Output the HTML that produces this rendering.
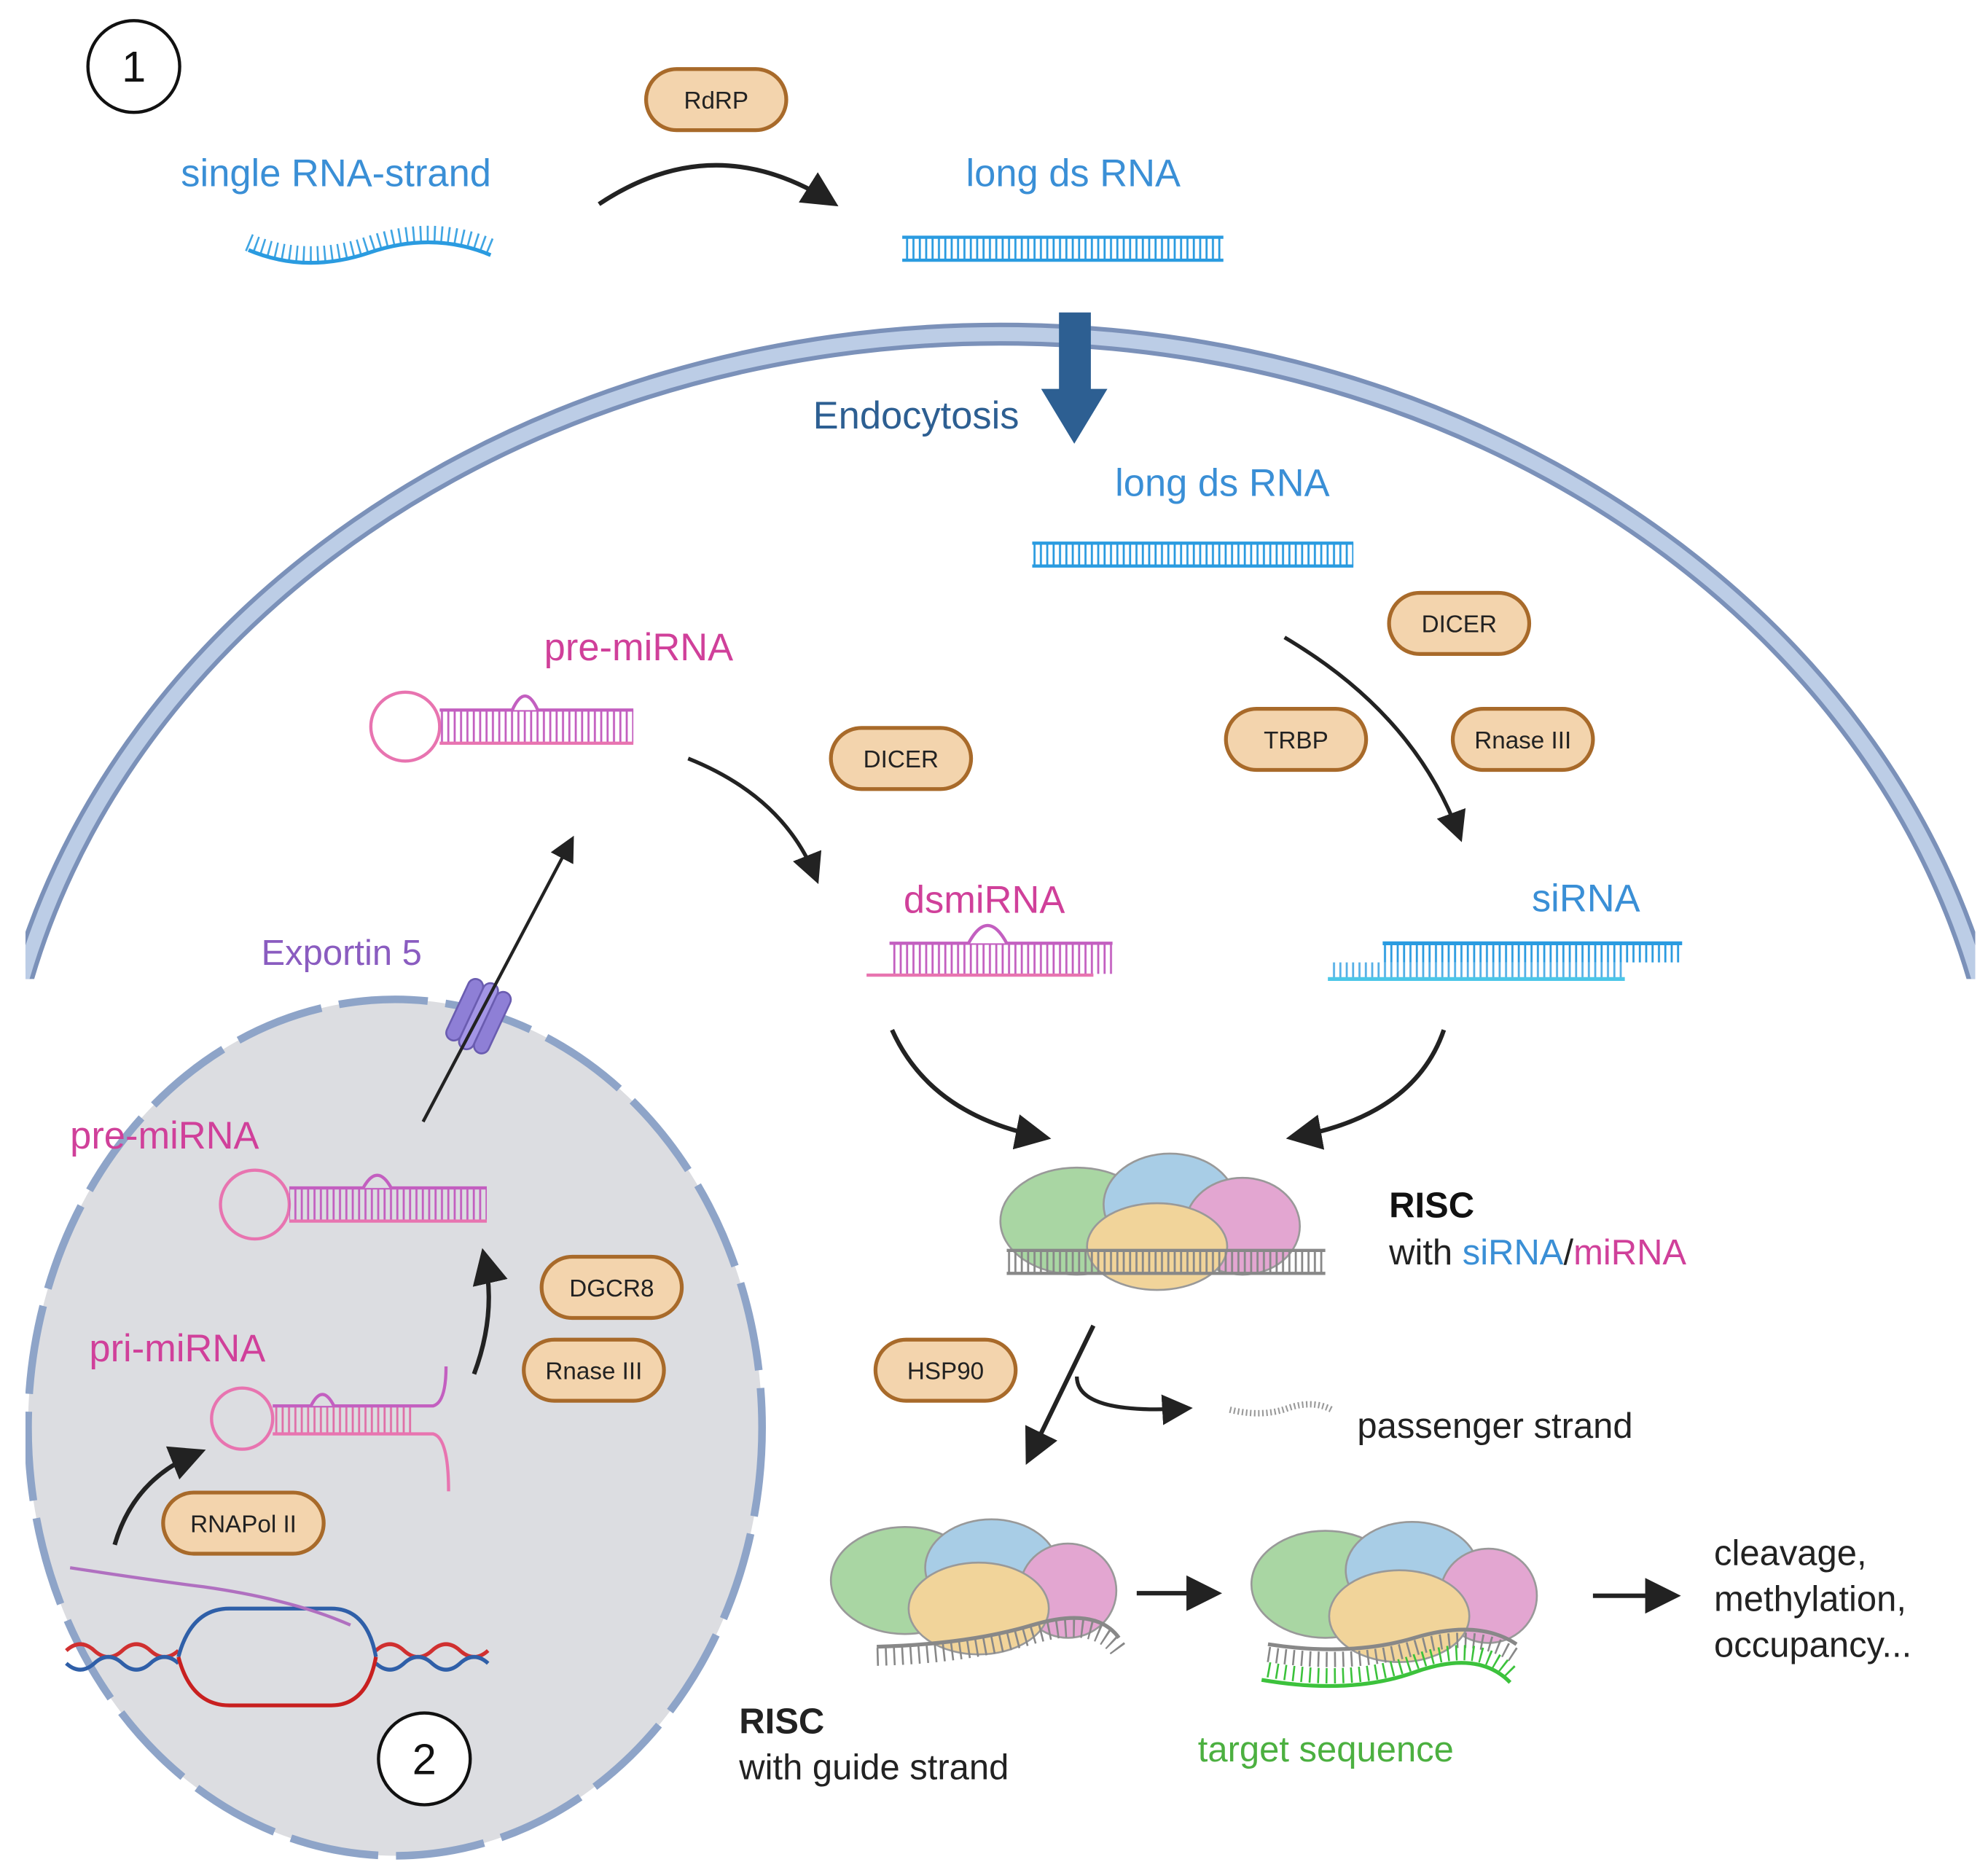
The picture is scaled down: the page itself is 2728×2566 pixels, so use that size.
<!DOCTYPE html>
<html><head><meta charset="utf-8"><style>
html,body{margin:0;padding:0;background:#fff;width:2728px;height:2566px;overflow:hidden}
svg{display:block}
text{font-family:"Liberation Sans",sans-serif}
</style></head><body>
<svg width="2728" height="2566" viewBox="0 0 1560 1467" xmlns="http://www.w3.org/2000/svg">
<defs>
<pattern id="tb" patternUnits="userSpaceOnUse" width="5" height="10"><rect x="1" y="0" width="1.6" height="10" fill="#2a9be0"/></pattern>
<pattern id="tp" patternUnits="userSpaceOnUse" width="5" height="10"><rect x="1" y="0" width="1.6" height="10" fill="#c35fc0"/></pattern>
<pattern id="tg" patternUnits="userSpaceOnUse" width="5" height="10"><rect x="1" y="0" width="1.6" height="10" fill="#888"/></pattern>
<pattern id="tpk" patternUnits="userSpaceOnUse" width="5" height="10"><rect x="1" y="0" width="1.6" height="10" fill="#e070a8"/></pattern>
<marker id="ah" markerWidth="8" markerHeight="8" refX="6" refY="4" orient="auto" markerUnits="strokeWidth"><path d="M0,0 L8,4 L0,8 z" fill="#222"/></marker>
<clipPath id="cc"><rect x="20" y="0" width="1530" height="768"/></clipPath>
</defs>

<g clip-path="url(#cc)">
<ellipse cx="785" cy="925" rx="790" ry="663" fill="none" stroke="#7b91b9" stroke-width="18"/>
<ellipse cx="785" cy="925" rx="790" ry="663" fill="none" stroke="#bccde6" stroke-width="11"/>
</g>

<circle cx="105" cy="52" r="36" fill="#fff" stroke="#111" stroke-width="2.5"/>
<text x="105" y="64" font-size="34" text-anchor="middle" fill="#111">1</text>

<g font-size="19" text-anchor="middle" fill="#222" stroke-width="3">
<rect x="507" y="54" width="110" height="48" rx="24" fill="#f3d4ad" stroke="#a86a2a"/><text x="562" y="85">RdRP</text>
<rect x="1090" y="465" width="110" height="48" rx="24" fill="#f3d4ad" stroke="#a86a2a"/><text x="1145" y="496">DICER</text>
<rect x="962" y="556" width="110" height="48" rx="24" fill="#f3d4ad" stroke="#a86a2a"/><text x="1017" y="587">TRBP</text>
<rect x="1140" y="556" width="110" height="48" rx="24" fill="#f3d4ad" stroke="#a86a2a"/><text x="1195" y="587">Rnase III</text>
<rect x="652" y="571" width="110" height="48" rx="24" fill="#f3d4ad" stroke="#a86a2a"/><text x="707" y="602">DICER</text>
<rect x="687" y="1051" width="110" height="48" rx="24" fill="#f3d4ad" stroke="#a86a2a"/><text x="742" y="1082">HSP90</text>
</g>

<g font-size="30" fill="#3a8fd6">
<text x="142" y="146">single RNA-strand</text>
<text x="758" y="146">long ds RNA</text>
<text x="875" y="389">long ds RNA</text>
<text x="1202" y="715">siRNA</text>
</g>
<text x="638" y="336" font-size="30" fill="#2d5f92">Endocytosis</text>

<path d="M195 196 Q240 215 290 198 T385 200" fill="none" stroke="#2a9be0" stroke-width="3"/>
<path d="M195 196 Q240 215 290 198 T385 200" fill="none" stroke="#2a9be0" stroke-width="14" stroke-dasharray="1.5 4" transform="translate(0,-6)" opacity="0.9"/>
<path d="M470 160 Q560 100 652 158" fill="none" stroke="#222" stroke-width="3.5" marker-end="url(#ah)"/>

<rect x="708" y="186" width="252" height="18" fill="url(#tb)"/>
<line x1="708" y1="186" x2="960" y2="186" stroke="#2a9be0" stroke-width="2.5"/>
<line x1="708" y1="204" x2="960" y2="204" stroke="#2a9be0" stroke-width="2.5"/>

<path d="M831 245 H856 V305 H869 L843 348 L817 305 H831 Z" fill="#2d5f92"/>

<rect x="810" y="426" width="252" height="18" fill="url(#tb)"/>
<line x1="810" y1="426" x2="1062" y2="426" stroke="#2a9be0" stroke-width="2.5"/>
<line x1="810" y1="444" x2="1062" y2="444" stroke="#2a9be0" stroke-width="2.5"/>

<path d="M1008 500 Q1110 560 1145 655" fill="none" stroke="#222" stroke-width="3" marker-end="url(#ah)"/>

<line x1="1085" y1="740" x2="1320" y2="740" stroke="#2a9be0" stroke-width="3"/>
<rect x="1085" y="741" width="235" height="14" fill="url(#tb)"/>
<rect x="1045" y="755" width="230" height="12" fill="url(#tb)" opacity="0.8"/>
<line x1="1042" y1="768" x2="1275" y2="768" stroke="#4cc7e8" stroke-width="3"/>

<text x="427" y="518" font-size="30" fill="#d0409a">pre-miRNA</text>
<circle cx="318" cy="570" r="27" fill="none" stroke="#e874b0" stroke-width="2.5"/>
<rect x="345" y="557" width="152" height="26" fill="url(#tp)"/>
<line x1="345" y1="557" x2="497" y2="557" stroke="#c35fc0" stroke-width="2.5"/>
<line x1="345" y1="583" x2="497" y2="583" stroke="#e874b0" stroke-width="2.5"/>
<path d="M402 557 Q412 535 422 557" fill="#fff" stroke="#c35fc0" stroke-width="2.5"/>

<path d="M540 595 Q615 625 640 688" fill="none" stroke="#222" stroke-width="3" marker-end="url(#ah)"/>

<text x="709" y="716" font-size="30" fill="#d0409a">dsmiRNA</text>
<line x1="698" y1="740" x2="873" y2="740" stroke="#c35fc0" stroke-width="2.5"/>
<rect x="698" y="741" width="175" height="23" fill="url(#tp)"/>
<line x1="680" y1="765" x2="858" y2="765" stroke="#e874b0" stroke-width="2.5"/>
<path d="M760 740 Q775 712 790 740" fill="#fff" stroke="#c35fc0" stroke-width="2.5"/>

<path d="M700 808 Q730 875 818 892" fill="none" stroke="#222" stroke-width="3.5" marker-end="url(#ah)"/>
<path d="M1133 808 Q1110 875 1016 892" fill="none" stroke="#222" stroke-width="3.5" marker-end="url(#ah)"/>

<g stroke="#999" stroke-width="1.5">
<ellipse cx="845" cy="958" rx="60" ry="42" fill="#a9d6a3"/>
<ellipse cx="918" cy="945" rx="52" ry="40" fill="#a8cde6"/>
<ellipse cx="975" cy="962" rx="45" ry="38" fill="#e3a6d1"/>
<ellipse cx="908" cy="978" rx="55" ry="34" fill="#f1d49a"/>
</g>
<rect x="790" y="981" width="250" height="18" fill="url(#tg)"/>
<line x1="790" y1="981" x2="1040" y2="981" stroke="#888" stroke-width="2.5"/>
<line x1="790" y1="999" x2="1040" y2="999" stroke="#888" stroke-width="2.5"/>
<text x="1090" y="955" font-size="28" font-weight="bold" fill="#111">RISC</text>
<text x="1090" y="992" font-size="28" fill="#222">with <tspan fill="#3a8fd6">siRNA</tspan>/<tspan fill="#d0409a">miRNA</tspan></text>

<path d="M858 1040 L808 1143" fill="none" stroke="#222" stroke-width="3.5" marker-end="url(#ah)"/>
<path d="M845 1080 Q845 1110 930 1105" fill="none" stroke="#222" stroke-width="3" marker-end="url(#ah)"/>
<path d="M965 1106 Q990 1112 1010 1105 T1045 1106" fill="none" stroke="#999" stroke-width="5" stroke-dasharray="1.2 2"/>
<text x="1065" y="1128" font-size="28" fill="#222">passenger strand</text>

<g stroke="#999" stroke-width="1.5">
<ellipse cx="710" cy="1240" rx="58" ry="42" fill="#a9d6a3"/>
<ellipse cx="778" cy="1230" rx="52" ry="38" fill="#a8cde6"/>
<ellipse cx="838" cy="1248" rx="38" ry="37" fill="#e3a6d1"/>
<ellipse cx="768" cy="1262" rx="55" ry="36" fill="#f1d49a"/>
</g>
<path d="M688 1292 Q760 1290 810 1275 T878 1285" fill="none" stroke="#888" stroke-width="3"/>
<path d="M688 1300 Q760 1298 810 1283 T878 1295" fill="none" stroke="#888" stroke-width="14" stroke-dasharray="1.5 5"/>
<path d="M892 1250 H952" stroke="#222" stroke-width="3.5" marker-end="url(#ah)"/>

<g stroke="#999" stroke-width="1.5">
<ellipse cx="1040" cy="1243" rx="58" ry="42" fill="#a9d6a3"/>
<ellipse cx="1108" cy="1232" rx="52" ry="38" fill="#a8cde6"/>
<ellipse cx="1168" cy="1252" rx="38" ry="37" fill="#e3a6d1"/>
<ellipse cx="1098" cy="1268" rx="55" ry="36" fill="#f1d49a"/>
</g>
<path d="M995 1290 Q1060 1300 1110 1285 T1190 1290" fill="none" stroke="#888" stroke-width="3"/>
<path d="M995 1298 Q1060 1308 1110 1293 T1190 1300" fill="none" stroke="#888" stroke-width="12" stroke-dasharray="1.5 5"/>
<path d="M990 1318 Q1060 1330 1110 1312 T1185 1320" fill="none" stroke="#3cc23c" stroke-width="3"/>
<path d="M995 1310 Q1060 1322 1110 1304 T1185 1312" fill="none" stroke="#3cc23c" stroke-width="12" stroke-dasharray="1.5 5"/>
<path d="M1250 1252 H1312" stroke="#222" stroke-width="3.5" marker-end="url(#ah)"/>
<g font-size="28" fill="#222">
<text x="1345" y="1228">cleavage,</text>
<text x="1345" y="1264">methylation,</text>
<text x="1345" y="1300">occupancy...</text>
<text x="580" y="1360" font-weight="bold">RISC</text>
<text x="580" y="1396">with guide strand</text>
</g>
<text x="940" y="1382" font-size="28" fill="#4cb040">target sequence</text>

<ellipse cx="310" cy="1120" rx="288" ry="336" fill="#dcdde1" stroke="#8ea4c8" stroke-width="6" stroke-dasharray="70 14"/>
<rect x="0" y="760" width="20" height="720" fill="#fff"/>

<text x="205" y="757" font-size="28" fill="#8a5cc0">Exportin 5</text>
<g transform="translate(372,800) rotate(25)">
<rect x="-16" y="-30" width="12" height="52" rx="6" fill="#8e7fd6" stroke="#6a5cb0" stroke-width="1.5"/>
<rect x="-4" y="-32" width="12" height="56" rx="6" fill="#a395e6" stroke="#6a5cb0" stroke-width="1.5"/>
<rect x="8" y="-30" width="12" height="52" rx="6" fill="#8e7fd6" stroke="#6a5cb0" stroke-width="1.5"/>
</g>
<path d="M332 880 L448 660" stroke="#222" stroke-width="2.5" marker-end="url(#ah)"/>

<text x="55" y="901" font-size="30" fill="#d0409a">pre-miRNA</text>
<circle cx="200" cy="945" r="27" fill="none" stroke="#e874b0" stroke-width="2.5"/>
<rect x="227" y="932" width="155" height="26" fill="url(#tp)"/>
<line x1="227" y1="932" x2="382" y2="932" stroke="#c35fc0" stroke-width="2.5"/>
<line x1="227" y1="958" x2="382" y2="958" stroke="#e874b0" stroke-width="2.5"/>
<path d="M285 932 Q296 912 307 932" fill="#dcdde1" stroke="#c35fc0" stroke-width="2.5"/>

<g font-size="19" text-anchor="middle" fill="#222" stroke-width="3">
<rect x="425" y="986" width="110" height="48" rx="24" fill="#f3d4ad" stroke="#a86a2a"/><text x="480" y="1017">DGCR8</text>
<rect x="411" y="1051" width="110" height="48" rx="24" fill="#f3d4ad" stroke="#a86a2a"/><text x="466" y="1082">Rnase III</text>
<rect x="128" y="1171" width="126" height="48" rx="24" fill="#f3d4ad" stroke="#a86a2a"/><text x="191" y="1202">RNAPol II</text>
</g>
<path d="M372 1078 Q390 1030 380 986" fill="none" stroke="#222" stroke-width="3.5" marker-end="url(#ah)"/>

<text x="70" y="1068" font-size="30" fill="#d0409a">pri-miRNA</text>
<circle cx="190" cy="1113" r="24" fill="none" stroke="#e874b0" stroke-width="2.5"/>
<rect x="214" y="1103" width="110" height="22" fill="url(#tpk)"/>
<path d="M214 1103 H340 Q350 1100 350 1072" fill="none" stroke="#c35fc0" stroke-width="2.5"/>
<path d="M214 1125 H340 Q352 1128 352 1170" fill="none" stroke="#e874b0" stroke-width="2.5"/>
<path d="M244 1103 Q253 1085 262 1103" fill="#dcdde1" stroke="#c35fc0" stroke-width="2.5"/>

<path d="M90 1212 Q105 1160 155 1140" fill="none" stroke="#222" stroke-width="3.5" marker-end="url(#ah)"/>

<path d="M52 1295 q11 -10 22 0 t22 0 t22 0 t22 0 M295 1295 q11 -10 22 0 t22 0 t22 0 t22 0" fill="none" stroke="#d03030" stroke-width="3"/>
<path d="M52 1305 q11 10 22 0 t22 0 t22 0 t22 0 M295 1305 q11 10 22 0 t22 0 t22 0 t22 0" fill="none" stroke="#2f5fa8" stroke-width="3"/>
<path d="M140 1300 Q150 1262 180 1262 H260 Q288 1262 295 1300" fill="none" stroke="#2f5fa8" stroke-width="3"/>
<path d="M140 1300 Q150 1338 180 1338 H260 Q288 1338 295 1300" fill="none" stroke="#c82020" stroke-width="3"/>
<path d="M55 1230 Q120 1240 160 1245 Q230 1255 275 1275" fill="none" stroke="#b070c0" stroke-width="2.5"/>

<circle cx="333" cy="1380" r="36" fill="#fff" stroke="#111" stroke-width="2.5"/>
<text x="333" y="1392" font-size="34" text-anchor="middle" fill="#111">2</text>
</svg>
</body></html>
